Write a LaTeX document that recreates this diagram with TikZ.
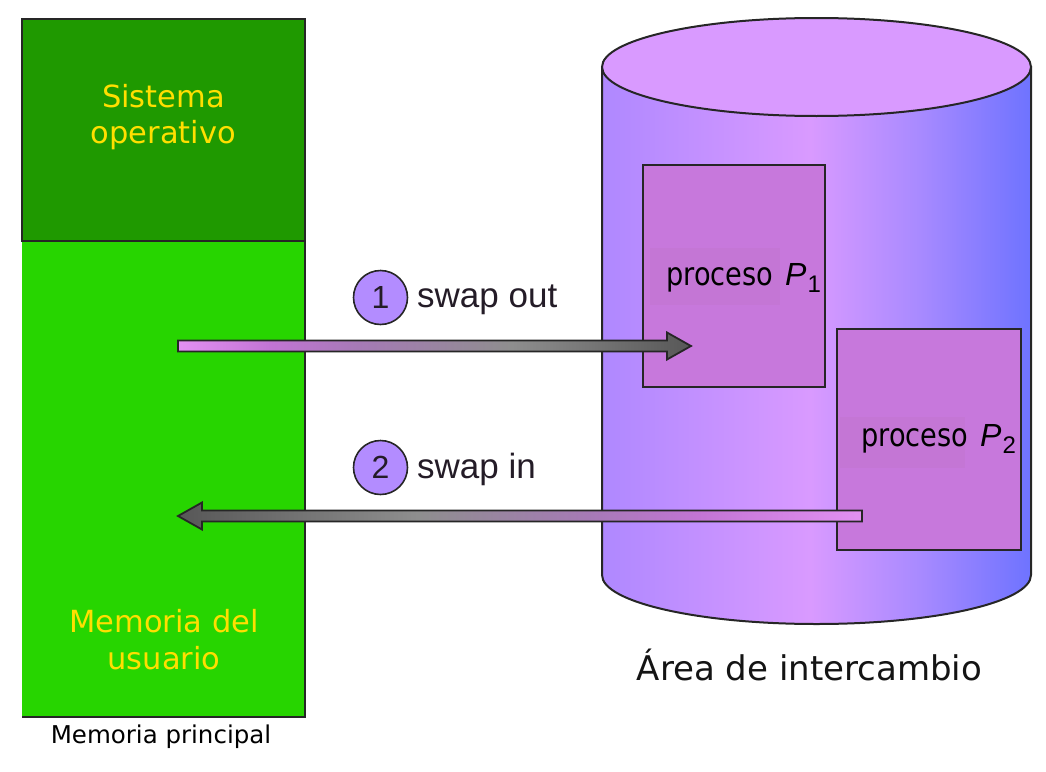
\documentclass[tikz,border=0pt]{standalone}
\usepackage{fontspec}
\setmainfont{DejaVu Sans}
\newfontfamily\arialf{Liberation Sans}
\newfontfamily\procf[FakeStretch=0.85]{DejaVu Sans}
\usetikzlibrary{calc}
\definecolor{edge}{HTML}{262626}
\definecolor{dkgreen}{HTML}{1F9900}
\definecolor{ltgreen}{HTML}{27D500}
\definecolor{yel}{HTML}{FFDF00}
\definecolor{cylA}{HTML}{AF88FF}
\definecolor{cylB}{HTML}{D99AFF}
\definecolor{cylC}{HTML}{A88AFF}
\definecolor{cylD}{HTML}{6E73FF}
\definecolor{proc}{HTML}{C778DC}
\definecolor{procbg}{HTML}{C476D5}
\definecolor{circ}{HTML}{B38CFF}
\definecolor{txt}{HTML}{241C27}
\definecolor{arPink}{HTML}{E290F2}
\definecolor{arPurp}{HTML}{C274D4}
\definecolor{arMauve}{HTML}{A67AB6}
\definecolor{arGrey}{HTML}{8E8E8E}
\definecolor{arDark}{HTML}{575757}
\pgfdeclarehorizontalshading{cylshade}{100bp}{color(0bp)=(cylA); color(25bp)=(cylA); color(49.25bp)=(cylB); color(62bp)=(cylC); color(75bp)=(cylD); color(100bp)=(cylD)}
\pgfdeclarehorizontalshading{outshade}{100bp}{color(0bp)=(arPink); color(25bp)=(arPink); color(34bp)=(arPurp); color(42.5bp)=(arMauve); color(57.5bp)=(arGrey); color(75bp)=(arDark); color(100bp)=(arDark)}
\pgfdeclarehorizontalshading{inshade}{100bp}{color(0bp)=(arDark); color(25bp)=(arDark); color(42.5bp)=(arGrey); color(55bp)=(arMauve); color(63bp)=(arPurp); color(75bp)=(arPink); color(100bp)=(arPink)}
\tikzset{
  memtxt/.style={text=yel, inner sep=0pt, anchor=base, font=\fontsize{30.5}{36}\selectfont},
  procbox/.style={draw=edge, line width=2pt, fill=proc, inner sep=0pt},
  proctxt/.style={text=black, inner sep=0pt, anchor=base west, font=\procf\fontsize{32}{36}\selectfont},
  numcirc/.style={circle, draw=edge, line width=1.6pt, fill=circ, inner sep=0pt, minimum size=54pt, text=txt, font=\arialf\fontsize{32}{36}\selectfont},
  swaptxt/.style={text=txt, inner sep=0pt, anchor=base west, font=\arialf\fontsize{35}{40}\selectfont},
  swaparrow/.style={draw=edge, line width=1.8pt},
}
\newcommand{\procP}[1]{{\arialf\itshape P}\hspace{1pt}\raisebox{-7pt}{\arialf\fontsize{24}{28}\selectfont #1}}
\begin{document}
\begin{tikzpicture}[x=1pt,y=-1pt]
\useasboundingbox (0,0) rectangle (1046,771);
% main memory
\node[fill=ltgreen, inner sep=0pt, minimum width=283pt, minimum height=476pt] (umem) at (163.5,479) {};
\draw[edge, line width=2pt] (umem.north east) -- (umem.south east) -- (umem.south west);
\node[draw=edge, line width=2pt, fill=dkgreen, inner sep=0pt, minimum width=283pt, minimum height=222pt] (so) at (163.5,130) {};
\node[memtxt] (so1) at (163.5,107) {Sistema};
\node[memtxt] (so2) at (163.5,143) {operativo};
\node[memtxt] (um1) at (164,632) {Memoria del};
\node[memtxt] (um2) at (164,669) {usuario};
\node[inner sep=0pt, anchor=base, font=\fontsize{24.5}{28}\selectfont] (mp) at (161,743) {Memoria principal};
% swap area cylinder
\shadedraw[shading=cylshade, draw=edge, line width=2pt] (602,67) -- (602,575) arc[start angle=180, end angle=0, x radius=214.5, y radius=49] -- (1031,67) -- cycle;
\filldraw[fill=cylB, draw=edge, line width=2pt] (816.5,67) ellipse[x radius=214.5, y radius=49];
\node[inner sep=0pt, anchor=base, font=\fontsize{34}{40}\selectfont, text=black!92] (area) at (809.5,680) {Área de intercambio};
% processes
\node[procbox, minimum width=182pt, minimum height=222pt] (p1) at (734,276) {};
\fill[procbg] (650,248) rectangle (780,305);
\node[proctxt] (p1t) at (666,285) {proceso\hspace{12pt}\procP{1}};
\node[procbox, minimum width=184pt, minimum height=221pt] (p2) at (929,439.5) {};
\fill[procbg] (840,417) rectangle (965,468);
\node[proctxt] (p2t) at (861,446) {proceso\hspace{12pt}\procP{2}};
% swap out
\node[numcirc] (c1) at (380.5,297.5) {1};
\node[swaptxt] (so_t) at (417,307) {swap out};
\coordinate (o1s) at (178,346);
\coordinate (o1e) at (691,346);
\shadedraw[shading=outshade, swaparrow] ($(o1s)+(0,-5.5)$) -- ($(o1e)+(-24,-5.5)$) -- ($(o1e)+(-24,-13.5)$) -- (o1e) -- ($(o1e)+(-24,13.5)$) -- ($(o1e)+(-24,5.5)$) -- ($(o1s)+(0,5.5)$) -- cycle;
% swap in
\node[numcirc] (c2) at (380.5,467.5) {2};
\node[swaptxt] (si_t) at (417,478) {swap in};
\coordinate (i2s) at (862,516);
\coordinate (i2e) at (178,516);
\shadedraw[shading=inshade, swaparrow] ($(i2s)+(0,-5.5)$) -- ($(i2e)+(24,-5.5)$) -- ($(i2e)+(24,-13.5)$) -- (i2e) -- ($(i2e)+(24,13.5)$) -- ($(i2e)+(24,5.5)$) -- ($(i2s)+(0,5.5)$) -- cycle;
\end{tikzpicture}
\end{document}
